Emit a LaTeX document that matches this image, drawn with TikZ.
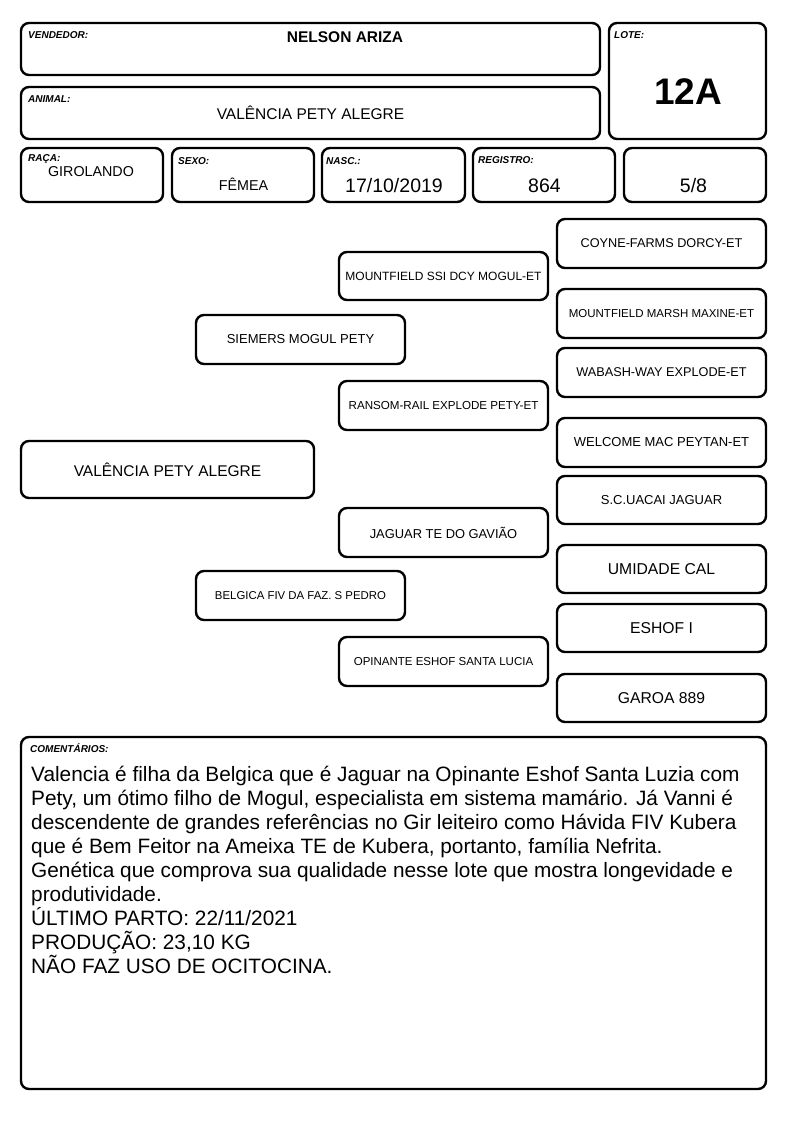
\documentclass[tikz,border=0pt]{standalone}
\usepackage{fontspec}
\setmainfont{Liberation Sans}
\usetikzlibrary{positioning}
\tikzset{
  box-h/.style={draw,line width=2.4pt,rounded corners=8pt,inner sep=0pt,minimum height=52pt},
  box-s/.style={box-h,minimum width=142pt,minimum height=54pt},
  box-p/.style={draw,line width=2.4pt,rounded corners=8pt,inner sep=0pt,minimum width=209pt,minimum height=49pt,font=\fontsize{12}{14}\selectfont},
  box-r/.style={box-p,font=\fontsize{12.7}{14}\selectfont},
  box-b/.style={box-p,font=\fontsize{15.7}{18}\selectfont},
  tag/.style={anchor=base west,inner sep=0pt,font=\fontsize{10}{12}\selectfont\bfseries\itshape},
  val/.style={inner sep=0pt,font=\fontsize{15.5}{18}\selectfont},
  val-s/.style={inner sep=0pt,font=\fontsize{14.3}{16}\selectfont},
  val-n/.style={inner sep=0pt,font=\fontsize{19.5}{22}\selectfont},
}

\begin{document}
\begin{tikzpicture}[x=1pt,y=-1pt]
  \useasboundingbox (0,0) rectangle (794,1123);

  % CABECALHO
  \node[box-h,minimum width=579pt] (vend) at (310.5,49) {};
  \node[box-h,minimum width=579pt] (anim) at (310.5,113) {};
  \node[box-h,minimum width=157pt,minimum height=116pt] (lote) at (687.5,81) {};
  \node[box-s] (raca) at (92,175) {};
  \node[box-s] (sexo) at (243,175) {};
  \node[box-s,minimum width=143pt] (nasc) at (393.5,175) {};
  \node[box-s] (regi) at (544,175) {};
  \node[box-s] (grau) at (695,175) {};

  \node[tag] (t-vend) at (28,39)    {VENDEDOR:};
  \node[tag] (t-anim) at (28,103)   {ANIMAL:};
  \node[tag] (t-lote) at (614,38.5) {LOTE:};
  \node[tag] (t-raca) at (28,162)   {RAÇA:};
  \node[tag] (t-sexo) at (178,165)  {SEXO:};
  \node[tag] (t-nasc) at (326,165)  {NASC.:};
  \node[tag] (t-regi) at (478,164)  {REGISTRO:};

  \node[val,font=\fontsize{15.5}{18}\selectfont\bfseries] (v-vend) at (345,37) {NELSON ARIZA};
  \node[val] (v-anim) at (310.5,113) {VALÊNCIA PETY ALEGRE};
  \node[val,font=\fontsize{37}{40}\selectfont\bfseries] (v-lote) at (688,92) {12A};
  \node[val-s] (v-raca) at (91,172)    {GIROLANDO};
  \node[val-s] (v-sexo) at (243.5,184) {FÊMEA};
  \node[val-n] (v-nasc) at (394,186)   {17/10/2019};
  \node[val-n] (v-regi) at (544.5,186) {864};
  \node[val-n] (v-grau) at (693.5,186) {5/8};

  % GENEALOGIA
  \node[box-p,minimum width=293pt,minimum height=57pt,font=\fontsize{15.5}{18}\selectfont] (main) at (167.5,469.5) {VALÊNCIA PETY ALEGRE};

  \node[box-p,font=\fontsize{13}{15}\selectfont] (pai) at (300.5,339.5) {SIEMERS MOGUL PETY};
  \node[box-p,font=\fontsize{11.4}{14}\selectfont] (mae) at (300.5,595.5) {BELGICA FIV DA FAZ. S PEDRO};

  \node[box-p,minimum height=48pt] (avpp) at (443.5,276)   {MOUNTFIELD SSI DCY MOGUL-ET};
  \node[box-p,font=\fontsize{11.6}{14}\selectfont] (avpm) at (443.5,405.5) {RANSOM-RAIL EXPLODE PETY-ET};
  \node[box-p,font=\fontsize{12.9}{15}\selectfont] (avmp) at (443.5,532.5) {JAGUAR TE DO GAVIÃO};
  \node[box-p,font=\fontsize{11.5}{14}\selectfont] (avmm) at (443.5,661.5) {OPINANTE ESHOF SANTA LUCIA};

  \node[box-r] (b1) at (661.5,243.5) {COYNE-FARMS DORCY-ET};
  \node[box-r,font=\fontsize{11.5}{14}\selectfont] (b2) at (661.5,313.5) {MOUNTFIELD MARSH MAXINE-ET};
  \node[box-r] (b3) at (661.5,372.5) {WABASH-WAY EXPLODE-ET};
  \node[box-r,font=\fontsize{13}{15}\selectfont] (b4) at (661.5,442.5) {WELCOME MAC PEYTAN-ET};
  \node[box-r,font=\fontsize{13}{15}\selectfont,minimum height=48pt] (b5) at (661.5,500) {S.C.UACAI JAGUAR};
  \node[box-b,minimum height=48pt] (b6) at (661.5,569) {UMIDADE CAL};
  \node[box-b,minimum height=48pt] (b7) at (661.5,628) {ESHOF I};
  \node[box-b,minimum height=48pt] (b8) at (661.5,698) {GAROA 889};

  % COMENTARIOS
  \node[box-h,minimum width=745pt,minimum height=352pt] (coment) at (393.5,913) {};
  \node[tag] (t-coment) at (30,752.5) {COMENTÁRIOS:};
  \node[anchor=base west,inner sep=0pt,align=left,font=\fontsize{20.8}{24}\selectfont] (v-coment) at (31,973) {%
    Valencia é filha da Belgica que é Jaguar na Opinante Eshof Santa Luzia com\\
    Pety, um ótimo filho de Mogul, especialista em sistema mamário. Já Vanni é\\
    descendente de grandes referências no Gir leiteiro como Hávida FIV Kubera\\
    que é Bem Feitor na Ameixa TE de Kubera, portanto, família Nefrita.\\
    Genética que comprova sua qualidade nesse lote que mostra longevidade e\\
    produtividade.\\
    ÚLTIMO PARTO: 22/11/2021\\
    PRODUÇÃO: 23,10 KG\\
    NÃO FAZ USO DE OCITOCINA.};

\end{tikzpicture}
\end{document}
